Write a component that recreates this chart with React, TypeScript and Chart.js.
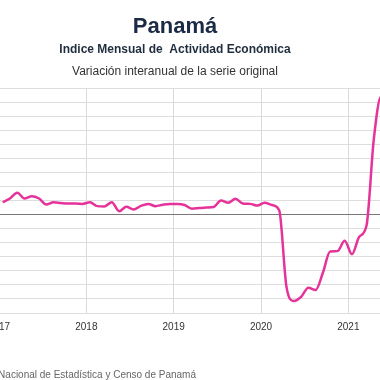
import React, { useEffect, useRef } from "react";
import { Chart, registerables } from "chart.js";

Chart.register(...registerables);

// ---- Data ----
const START_YEAR = 2017;
const MONTHS_ON_AXIS = 54; // Jan 2017 .. Jun 2021
const TITLE = "Panamá";
const SUBTITLE = "Indice Mensual de  Actividad Económica";
const SUBTITLE2 = "Variación interanual de la serie original";
const SOURCE = "Fuente: Instituto Nacional de Estadística y Censo de Panamá";

// Monthly year-over-year variation (%), starting January 2017
const values2017 = [4.4, 5.7, 7.8, 5.7, 6.5, 5.7, 3.6, 4.4, 4.1, 3.9, 3.9, 3.8];
const values2018 = [4.4, 3.0, 2.9, 4.4, 1.2, 2.75, 1.8, 3.1, 3.8, 3.0, 3.5, 3.8];
const values2019 = [3.8, 3.4, 2.1, 2.3, 2.5, 2.7, 5.0, 4.2, 5.6, 3.9, 3.8, 3.2];
const values2020 = [4.2, 3.4, 1.5, -25.7, -30.7, -29.3, -26.0, -26.8, -20.7, -13.1, -13.0, -9.3];
const values2021 = [-14.1, -7.9, -3.9, 26.8, 42.0, 38.0];

const Y_MIN = -35;
const Y_MAX = 45;
const Y_STEP = 5;

const series = [...values2017, ...values2018, ...values2019, ...values2020, ...values2021];

const textPlugin = {
  id: "textBlocks",
  afterDraw(chart: any) {
    const { ctx, width, chartArea } = chart;
    ctx.save();
    ctx.textBaseline = "alphabetic";
    ctx.textAlign = "center";
    ctx.fillStyle = "#1c2b45";
    ctx.font = 'bold 22px "Liberation Sans", Arial, sans-serif';
    ctx.fillText(TITLE, width / 2, 33);
    ctx.fillStyle = "#1f2d3d";
    ctx.font = 'bold 12px "Liberation Sans", Arial, sans-serif';
    ctx.fillText(SUBTITLE, width / 2, 53);
    ctx.fillStyle = "#333333";
    ctx.font = '12px "Liberation Sans", Arial, sans-serif';
    ctx.fillText(SUBTITLE2, width / 2, 75);
    ctx.textAlign = "right";
    ctx.fillStyle = "#666666";
    ctx.font = '10px "Liberation Sans", Arial, sans-serif';
    ctx.fillText(SOURCE, chartArea.left + 197, 378);
    ctx.restore();
  },
};

export default function App() {
  const ref = useRef<HTMLCanvasElement>(null);
  useEffect(() => {
    const chart = new Chart(ref.current as HTMLCanvasElement, {
      type: "line",
      data: {
        datasets: [
          {
            label: "IMAE",
            data: series.map((v, i) => ({ x: i + 0.5, y: v })),
            borderColor: "#e6339a",
            backgroundColor: "#e6339a",
            borderWidth: 2.5,
            pointRadius: 0,
            cubicInterpolationMode: "monotone",
            fill: false,
          },
        ],
      },
      options: {
        animation: false,
        responsive: false,
        devicePixelRatio: 1,
        layout: { padding: { left: 10, right: 9, top: 88, bottom: 0 } },
        plugins: {
          legend: { display: false },
          title: { display: false },
          tooltip: { enabled: false },
        },
        scales: {
          x: {
            type: "linear",
            min: 0,
            max: MONTHS_ON_AXIS,
            afterFit: (s: any) => {
              s.height = 67;
            },
            border: { display: false },
            grid: { color: "#d9d9d9", drawTicks: false },
            ticks: {
              stepSize: 12,
              padding: 8,
              autoSkip: false,
              maxRotation: 0,
              color: "#333333",
              font: { family: '"Liberation Sans", Arial, sans-serif', size: 10 },
              callback: (v: any) => (Number(v) % 12 === 0 ? String(START_YEAR + Number(v) / 12) : null),
            },
          },
          y: {
            min: Y_MIN,
            max: Y_MAX,
            afterFit: (s: any) => {
              s.width = 40;
            },
            border: { display: false },
            grid: {
              drawTicks: false,
              color: (c: any) => (c.tick && c.tick.value === 0 ? "#777777" : "#dddddd"),
            },
            ticks: {
              stepSize: Y_STEP,
              maxTicksLimit: 30,
              autoSkip: false,
              padding: 6,
              color: "#333333",
              font: { family: '"Liberation Sans", Arial, sans-serif', size: 10 },
            },
          },
        },
      },
      plugins: [textPlugin],
    });
    return () => chart.destroy();
  }, []);
  return (
    <div
      style={{
        position: "fixed",
        left: 0,
        top: 0,
        width: 380,
        height: 380,
        overflow: "hidden",
        background: "#ffffff",
      }}
    >
      <canvas
        ref={ref}
        width={452}
        height={380}
        style={{ position: "absolute", left: -51, top: 0, width: 452, height: 380 }}
      />
    </div>
  );
}
